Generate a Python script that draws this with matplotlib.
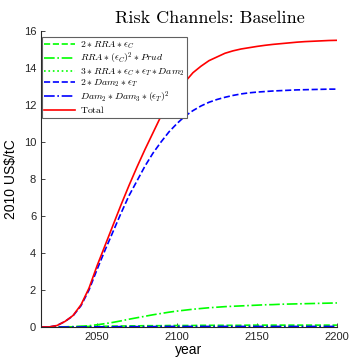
import numpy as np
import matplotlib
matplotlib.use('Agg')
from matplotlib import pyplot as plt

plt.rcParams['mathtext.fontset'] = 'cm'
plt.rcParams['axes.formatter.use_mathtext'] = False

years = np.arange(2015, 2201, 5)

# Total
total = [0.0, 0.0, 0.08, 0.3, 0.62, 1.2, 2.1, 3.3, 4.4, 5.5, 6.6, 7.65, 8.65, 9.6,
         10.5, 11.4, 12.1, 12.7, 13.25, 13.75, 14.1, 14.4, 14.6, 14.8, 14.93, 15.03,
         15.1, 15.17, 15.23, 15.28, 15.32, 15.36, 15.4, 15.43, 15.45, 15.47, 15.49, 15.5]
# 2*Dam2*eT
dam_t = [0.0, 0.0, 0.08, 0.3, 0.6, 1.15, 2.0, 3.1, 4.15, 5.15, 6.15, 7.1, 7.9, 8.7,
         9.4, 10.0, 10.55, 11.0, 11.4, 11.7, 11.95, 12.15, 12.3, 12.42, 12.52, 12.6,
         12.66, 12.7, 12.73, 12.76, 12.78, 12.8, 12.82, 12.83, 12.84, 12.85, 12.86, 12.86]
# RRA*(eC)^2*Prud
prud = [0.0, 0.0, 0.0, 0.01, 0.02, 0.04, 0.07, 0.12, 0.18, 0.25, 0.33, 0.42, 0.5, 0.58,
        0.66, 0.73, 0.8, 0.86, 0.91, 0.96, 1.0, 1.04, 1.07, 1.1, 1.12, 1.14,
        1.16, 1.18, 1.2, 1.21, 1.23, 1.24, 1.25, 1.26, 1.27, 1.28, 1.29, 1.3]
# 2*RRA*eC
rra_c = [0.0, 0.0, 0.0, 0.01, 0.01, 0.02, 0.03, 0.03, 0.04, 0.05, 0.05, 0.06, 0.06, 0.07,
         0.07, 0.07, 0.08, 0.08, 0.08, 0.08, 0.09, 0.09, 0.09, 0.09, 0.09, 0.09,
         0.1, 0.1, 0.1, 0.1, 0.1, 0.1, 0.1, 0.1, 0.1, 0.1, 0.1, 0.1]
# 3*RRA*eC*eT*Dam2
cross = [0.0] * 38
# Dam2*Dam3*(eT)^2
dam3 = [0.0, 0.0, 0.0, 0.0, 0.0, 0.0, 0.01, 0.01, 0.01, 0.01, 0.02, 0.02, 0.02, 0.02,
        0.02, 0.03, 0.03, 0.03, 0.03, 0.03, 0.03, 0.03, 0.03, 0.03, 0.03, 0.03,
        0.03, 0.03, 0.03, 0.03, 0.03, 0.03, 0.03, 0.03, 0.03, 0.03, 0.03, 0.03]

labels = [r'$2\ast RRA\ast\epsilon_C$',
          r'$RRA\ast(\epsilon_C)^2\ast Prud$',
          r'$3\ast RRA\ast\epsilon_C\ast\epsilon_T\ast Dam_2$',
          r'$2\ast Dam_2\ast\epsilon_T$',
          r'$Dam_2\ast Dam_3\ast(\epsilon_T)^2$',
          r'$\mathrm{Total}$']

fig = plt.figure(figsize=(3.49, 3.6), dpi=100)
ax = fig.add_axes([0.1175, 0.0917, 0.848, 0.822])

ax.plot(years, rra_c, '--', color=(0, 1, 0), lw=1.2, label=labels[0])
ax.plot(years, prud, '-.', color=(0, 1, 0), lw=1.2, label=labels[1])
ax.plot(years, cross, ':', color=(0, 1, 0), lw=1.2, label=labels[2])
ax.plot(years, dam_t, '--', color=(0, 0, 1), lw=1.2, label=labels[3])
ax.plot(years, dam3, '-.', color=(0, 0, 1), lw=1.2, label=labels[4])
ax.plot(years, total, '-', color=(1, 0, 0), lw=1.2, label=labels[5])

ax.set_xlim(2015, 2200)
ax.set_ylim(0, 16)
ax.set_xticks([2050, 2100, 2150, 2200])
ax.set_yticks(range(0, 17, 2))
ax.spines['top'].set_visible(False)
ax.spines['right'].set_visible(False)
ax.tick_params(direction='in', labelsize=8, length=3, width=0.6, colors='#262626')
for lab in ax.get_xticklabels() + ax.get_yticklabels():
    lab.set_family('Liberation Sans')
ax.spines['left'].set_color('#262626')
ax.spines['bottom'].set_color('#262626')

ax.set_xlabel('year', family='Liberation Sans', fontsize=10, labelpad=1)
ax.set_ylabel('2010 US$/tC', family='Liberation Sans', fontsize=10, labelpad=4)
ax.set_title('Risk Channels: Baseline', family='cmr10', fontsize=13, pad=6, x=0.57)

leg = ax.legend(loc='upper left', bbox_to_anchor=(0.003, 0.98), borderaxespad=0,
                fontsize=7.0, handlelength=3.2, labelspacing=-0.02, handletextpad=0.45,
                borderpad=0.25, fancybox=False, framealpha=1)
leg.get_frame().set_edgecolor('#606060')
leg.get_frame().set_linewidth(0.8)

plt.savefig('out.png', dpi=100)
